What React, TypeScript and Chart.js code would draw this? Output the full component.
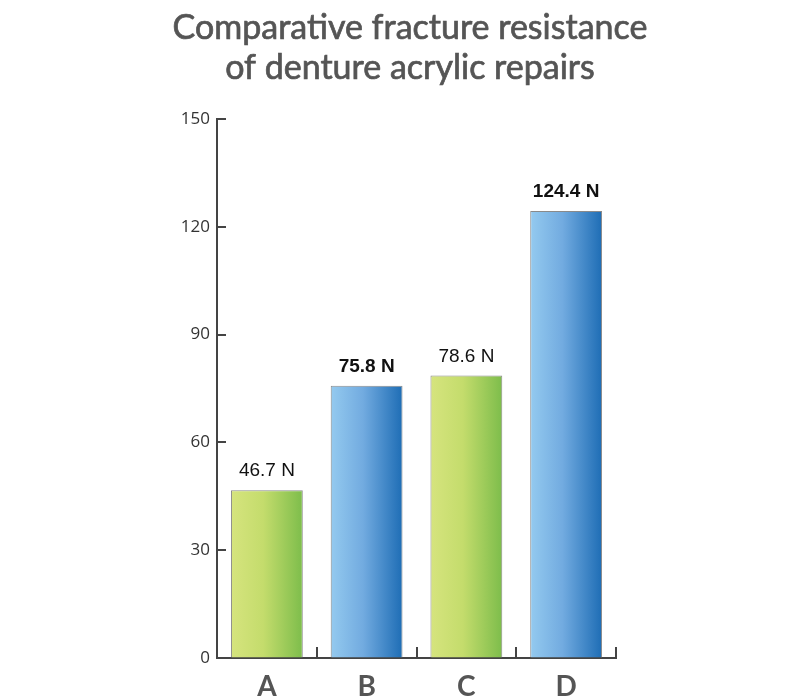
import React, { useEffect, useRef } from "react";
import { Chart, registerables } from "chart.js";

Chart.register(...registerables);

const titleLines = ["Comparative fracture resistance", "of denture acrylic repairs"];
const categories = ["A", "B", "C", "D"];
const values = [46.7, 75.8, 78.6, 124.4];
const valueLabels = ["46.7 N", "75.8 N", "78.6 N", "124.4 N"];
const labelBold = [false, true, false, true];
const barKinds = ["green", "blue", "green", "blue"];
const yMin = 0;
const yMax = 150;
const yStep = 30;

const gradStops: Record<string, string[]> = {
  green: ["#d6e47e", "#c4dc6c", "#7dbd4b"],
  blue: ["#94caef", "#72abe0", "#1e6db5"],
};

const customDraw = {
  id: "customDraw",
  afterDraw(chart: any) {
    const { ctx } = chart;
    ctx.save();
    ctx.fillStyle = "#555";
    ctx.strokeStyle = "#555";
    ctx.lineWidth = 0.7;
    ctx.textAlign = "center";
    ctx.textBaseline = "middle";
    ctx.font = `34px Lato, "Noto Sans", sans-serif`;
    titleLines.forEach((line, i) => {
      ctx.fillText(line, 410, 28 + i * 40);
      ctx.strokeText(line, 410, 28 + i * 40);
    });
    ctx.restore();
  },
  afterDatasetsDraw(chart: any) {
    const { ctx, chartArea, scales } = chart;
    const x = scales.x;
    const y = scales.y;
    ctx.save();
    ctx.strokeStyle = "#444";
    ctx.lineWidth = 2;
    y.ticks.forEach((t: any) => {
      const py = Math.round(y.getPixelForValue(t.value));
      ctx.beginPath();
      ctx.moveTo(chartArea.left, py);
      ctx.lineTo(chartArea.left + 9, py);
      ctx.stroke();
    });
    for (let i = 0; i < categories.length; i++) {
      const px = Math.round(x.getPixelForValue(i) + (x.getPixelForValue(1) - x.getPixelForValue(0)) / 2);
      ctx.beginPath();
      ctx.moveTo(px, chartArea.bottom);
      ctx.lineTo(px, chartArea.bottom - 11);
      ctx.stroke();
    }
    const meta = chart.getDatasetMeta(0);
    ctx.fillStyle = "#111";
    ctx.textAlign = "center";
    ctx.textBaseline = "alphabetic";
    meta.data.forEach((bar: any, i: number) => {
      ctx.font = `${labelBold[i] ? "bold " : ""}19px "Liberation Sans", Arial, sans-serif`;
      ctx.fillText(valueLabels[i], bar.x, bar.y - 14);
    });
    ctx.restore();
  },
};

export default function App() {
  const ref = useRef<HTMLCanvasElement | null>(null);
  useEffect(() => {
    if (!ref.current) return;
    const chart = new Chart(ref.current, {
      type: "bar",
      data: {
        labels: categories,
        datasets: [
          {
            data: values,
            backgroundColor: (c: any) => {
              const chart = c.chart;
              const kind = barKinds[c.dataIndex] || "green";
              const stops = gradStops[kind];
              const xs = chart.scales && chart.scales.x;
              if (!xs || !chart.chartArea) return stops[1];
              const cx = xs.getPixelForValue(c.dataIndex);
              const half = ((xs.getPixelForValue(1) - xs.getPixelForValue(0)) * 0.72) / 2;
              const g = chart.ctx.createLinearGradient(cx - half, 0, cx + half, 0);
              g.addColorStop(0, stops[0]);
              g.addColorStop(0.45, stops[1]);
              g.addColorStop(1, stops[2]);
              return g;
            },
            borderColor: "#8a8a8a",
            borderWidth: 1,
            borderSkipped: "bottom",
            barPercentage: 0.72,
            categoryPercentage: 1,
          },
        ],
      },
      options: {
        animation: false,
        responsive: false,
        maintainAspectRatio: false,
        devicePixelRatio: 1,
        layout: { padding: { left: 157, right: 184, top: 119, bottom: 0 } },
        plugins: {
          legend: { display: false },
          tooltip: { enabled: false },
          title: { display: false },
        },
        scales: {
          x: {
            offset: true,
            grid: { display: true, drawOnChartArea: false, drawTicks: false, color: "rgba(0,0,0,0)" },
            border: { display: true, color: "#444", width: 2 },
            ticks: {
              color: "#555",
              font: { family: "Lato, 'Noto Sans', sans-serif", size: 28, weight: "bold" },
              padding: 12,
            },
            afterFit: (s: any) => {
              s.height = 42;
            },
          },
          y: {
            min: yMin,
            max: yMax,
            grid: { display: true, drawOnChartArea: false, drawTicks: false, color: "rgba(0,0,0,0)" },
            border: { display: true, color: "#444", width: 2 },
            ticks: {
              stepSize: yStep,
              color: "#333",
              font: { family: "'Open Sans', sans-serif", size: 17 },
              padding: 7,
            },
            afterFit: (s: any) => {
              s.width = 60;
            },
          },
        },
      },
      plugins: [customDraw],
    });
    return () => chart.destroy();
  }, []);
  return (
    <div style={{ position: "absolute", left: 0, top: 0, width: 800, height: 700, background: "#fff" }}>
      <canvas ref={ref} width={800} height={700} style={{ width: 800, height: 700 }} />
    </div>
  );
}
